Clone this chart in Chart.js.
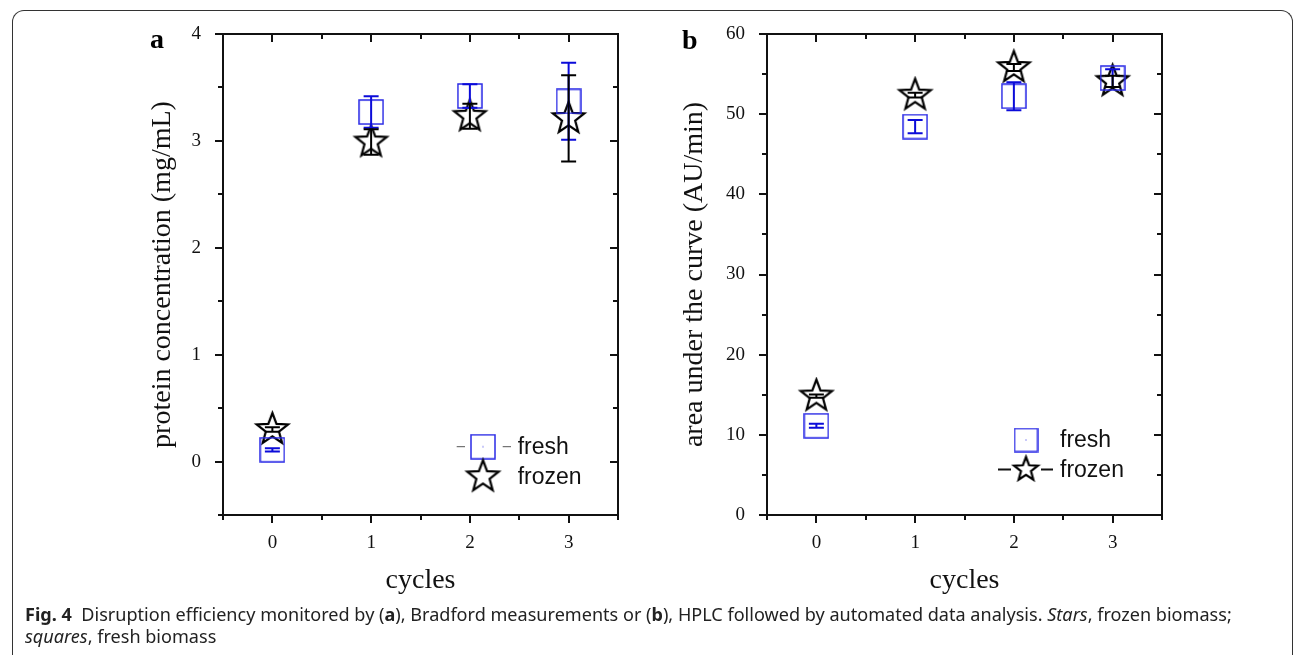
<!DOCTYPE html>
<html>
<head>
<meta charset="utf-8">
<script src="https://cdn.jsdelivr.net/npm/chart.js@4.4.0/dist/chart.umd.min.js"></script>
<style>
    body {
        margin: 0;
        width: 1293px;
        height: 655px;
        overflow: hidden;
        position: relative;
        background: #fff;
    }
    #frame {
        position: absolute;
        left: 12px;
        top: 10px;
        width: 1281px;
        height: 700px;
        box-sizing: border-box;
        border: 1.5px solid #333;
        border-bottom: none;
        border-radius: 12px 12px 0 0;
    }
    canvas { position: absolute; top: 0; }
    #chartA { left: 130px; }
    #chartB { left: 665px; }
    .panel {
        position: absolute;
        font: bold 28px "Liberation Serif", serif;
        line-height: 1;
    }
    #caption {
        position: absolute;
        left: 25px;
        top: 603px;
        font: 18px "Noto Sans", sans-serif;
        line-height: 22px;
        color: #222;
        white-space: nowrap;
        transform-origin: 0 0;
    }
</style>
</head>
<body>
<div id="frame"></div>
<canvas id="chartA" width="520" height="610"></canvas>
<canvas id="chartB" width="528" height="610"></canvas>
<div class="panel" style="left:150px; top:25px;">a</div>
<div class="panel" style="left:682px; top:26px;">b</div>
<div id="caption">
    <div id="capLine1"><b>Fig. 4</b>&nbsp; Disruption efficiency monitored by (<b>a</b>), Bradford measurements or (<b>b</b>), HPLC followed by automated data analysis. <i>Stars</i>, frozen biomass;</div>
    <div><i>squares</i>, fresh biomass</div>
</div>
<script>
// data
const cycles = [0, 1, 2, 3];

const freshProtein = [0.11, 3.27, 3.42, 3.37];
const freshProteinErr = [0.015, 0.147, 0.11, 0.36];
const frozenProtein = [0.30, 2.99, 3.23, 3.21];
const frozenProteinErr = [0.02, 0.12, 0.117, 0.403];

const freshArea = [11.13, 48.45, 52.24, 54.5];
const freshAreaErr = [0.25, 0.83, 1.75, 1.1];
const frozenArea = [14.84, 52.37, 55.82, 54.1];
const frozenAreaErr = [0.2, 0.3, 0.45, 0.7];

const seriesLabels = ['fresh', 'frozen'];

const BLUE = '#2a2ae6';
const BLUE_ERR = '#0b0bd9';

/**
 * Marker images
 */
function makeStar(R, width) {
    const c = document.createElement('canvas');
    const s = Math.ceil(R * 2 + 6);
    c.width = c.height = s;
    const g = c.getContext('2d');
    const r = R * 0.42;
    g.beginPath();
    for (let i = 0; i < 10; i++) {
        const a = -Math.PI / 2 + i * Math.PI / 5;
        const rr = i % 2 ? r : R;
        g.lineTo(s / 2 + rr * Math.cos(a), s / 2 + rr * Math.sin(a));
    }
    g.closePath();
    g.lineWidth = width;
    g.strokeStyle = '#000';
    g.stroke();
    return c;
}

function makeSquare(side, dot) {
    const c = document.createElement('canvas');
    const s = side + 2;
    c.width = c.height = s;
    const g = c.getContext('2d');
    g.strokeStyle = BLUE;
    g.lineWidth = 1.5;
    g.strokeRect(1, 1, side, side);
    if (dot) {
        g.fillStyle = BLUE;
        g.fillRect(s / 2 - 0.5, s / 2 - 0.5, 1, 1);
    }
    return c;
}

const starMark = makeStar(16.5, 2.2);
const squareMark = makeSquare(24, false);
const starLegendB = makeStar(12.5, 2.2);
const squareLegendA = makeSquare(24, true);
const squareLegendB = makeSquare(23, true);

const toPoints = (ys) => cycles.map((c, i) => ({ x: c, y: ys[i] }));

/**
 * Error bars drawn from the dataset values through the scales
 */
const errorBars = {
    id: 'errorBars',
    afterDatasetsDraw(chart) {
        const { ctx, scales: { x, y } } = chart;
        chart.data.datasets.forEach(ds => {
            if (!ds.errors) return;
            ctx.save();
            ctx.strokeStyle = ds.errorColor;
            ctx.lineWidth = 2;
            ds.data.forEach((p, i) => {
                const px = x.getPixelForValue(p.x);
                const top = y.getPixelForValue(p.y + ds.errors[i]);
                const bot = y.getPixelForValue(p.y - ds.errors[i]);
                ctx.beginPath();
                ctx.moveTo(px, top); ctx.lineTo(px, bot);
                ctx.moveTo(px - 7.5, top); ctx.lineTo(px + 7.5, top);
                ctx.moveTo(px - 7.5, bot); ctx.lineTo(px + 7.5, bot);
                ctx.stroke();
            });
            ctx.restore();
        });
    }
};

/**
 * Box frame with ticks: outward on bottom/left, inward on top/right
 */
const axisFrame = {
    id: 'axisFrame',
    afterDraw(chart) {
        const { ctx, chartArea: a, scales: { x, y } } = chart;
        ctx.save();
        ctx.strokeStyle = '#111';
        ctx.lineWidth = 2;
        ctx.strokeRect(a.left, a.top, a.right - a.left, a.bottom - a.top);
        ctx.beginPath();
        x.ticks.forEach(t => {
            const px = Math.round(x.getPixelForValue(t.value));
            const len = t.label !== '' ? 8 : 5;
            ctx.moveTo(px, a.bottom); ctx.lineTo(px, a.bottom + len);
            ctx.moveTo(px, a.top); ctx.lineTo(px, a.top + len);
        });
        y.ticks.forEach(t => {
            const py = Math.round(y.getPixelForValue(t.value));
            const len = t.label !== '' ? 8 : 5;
            ctx.moveTo(a.left, py); ctx.lineTo(a.left - len, py);
            ctx.moveTo(a.right, py); ctx.lineTo(a.right - len, py);
        });
        ctx.stroke();
        ctx.restore();
    }
};

/**
 * Marker legend drawn inside the plot
 */
const markerLegend = {
    id: 'markerLegend',
    afterDraw(chart, args, opts) {
        const { ctx } = chart;
        ctx.save();
        ctx.font = '23px "Liberation Sans", Arial, sans-serif';
        ctx.textBaseline = 'middle';
        ctx.fillStyle = '#111';
        (opts.items || []).forEach(it => {
            if (it.dashes) {
                ctx.strokeStyle = it.dashColor;
                ctx.lineWidth = it.dashWidth;
                ctx.beginPath();
                it.dashes.forEach(d => { ctx.moveTo(d[0], it.y); ctx.lineTo(d[1], it.y); });
                ctx.stroke();
            }
            const m = it.mark;
            ctx.drawImage(m, it.x - m.width / 2, it.y - m.height / 2);
            ctx.fillText(it.text, it.tx, it.y + 1);
        });
        ctx.restore();
    }
};

function makeChart(id, cfg) {
    const tickFont = { family: "'Liberation Serif', serif", size: 19 };
    const titleFont = { family: "'Liberation Serif', serif", size: 28 };
    return new Chart(document.getElementById(id), {
        type: 'scatter',
        data: {
            datasets: [
                {
                    label: seriesLabels[0],
                    data: toPoints(cfg.fresh),
                    errors: cfg.freshErr,
                    errorColor: BLUE_ERR,
                    pointStyle: squareMark,
                    pointRadius: 12,
                    pointHoverRadius: 12
                },
                {
                    label: seriesLabels[1],
                    data: toPoints(cfg.frozen),
                    errors: cfg.frozenErr,
                    errorColor: '#000',
                    pointStyle: starMark,
                    pointRadius: 12,
                    pointHoverRadius: 12
                }
            ]
        },
        options: {
            responsive: false,
            animation: false,
            devicePixelRatio: 1,
            layout: { padding: { top: 34, right: cfg.padRight, bottom: 0, left: 0 } },
            plugins: {
                legend: { display: false },
                tooltip: { enabled: false },
                markerLegend: { items: cfg.legend }
            },
            scales: {
                x: {
                    type: 'linear',
                    min: -0.5,
                    max: 3.5,
                    afterFit: s => { s.height = 95; },
                    grid: { display: false, drawTicks: false },
                    border: { display: false },
                    ticks: {
                        stepSize: 0.5,
                        autoSkip: false,
                        maxRotation: 0,
                        padding: 17,
                        color: '#111',
                        font: tickFont,
                        callback: v => Number.isInteger(v) ? String(v) : ''
                    },
                    title: {
                        display: true,
                        text: 'cycles',
                        color: '#111',
                        font: titleFont,
                        padding: { top: 0, bottom: 13 }
                    }
                },
                y: {
                    min: cfg.yMin,
                    max: cfg.yMax,
                    afterFit: s => { s.width = cfg.yWidth; },
                    grid: { display: false, drawTicks: false },
                    border: { display: false },
                    ticks: {
                        stepSize: cfg.yMinor,
                        autoSkip: false,
                        padding: 22,
                        color: '#111',
                        font: tickFont,
                        callback: v => (Math.abs(v / cfg.yMajor - Math.round(v / cfg.yMajor)) < 1e-6) ? String(v) : ''
                    },
                    title: {
                        display: true,
                        text: cfg.yTitle,
                        color: '#111',
                        font: titleFont,
                        padding: { top: cfg.titlePad, bottom: 0 }
                    }
                }
            }
        },
        plugins: [errorBars, axisFrame, markerLegend]
    });
}

makeChart('chartA', {
    fresh: freshProtein, freshErr: freshProteinErr,
    frozen: frozenProtein, frozenErr: frozenProteinErr,
    yMin: -0.5, yMax: 4, yMinor: 0.5, yMajor: 1,
    yTitle: 'protein concentration (mg/mL)',
    yWidth: 93, padRight: 32, titlePad: 16,
    legend: [
        { mark: squareLegendA, x: 353, y: 446.7, tx: 387.7, text: seriesLabels[0],
          dashes: [[326.7, 335], [372.7, 381]], dashColor: '#555', dashWidth: 1 },
        { mark: starMark, x: 353, y: 476.7, tx: 387.7, text: seriesLabels[1] }
    ]
});

makeChart('chartB', {
    fresh: freshArea, freshErr: freshAreaErr,
    frozen: frozenArea, frozenErr: frozenAreaErr,
    yMin: 0, yMax: 60, yMinor: 5, yMajor: 10,
    yTitle: 'area under the curve (AU/min)',
    yWidth: 102, padRight: 31, titlePad: 13,
    legend: [
        { mark: squareLegendB, x: 361, y: 440, tx: 395, text: seriesLabels[0] },
        { mark: starLegendB, x: 361, y: 469.5, tx: 395, text: seriesLabels[1],
          dashes: [[333, 346], [376, 388]], dashColor: '#111', dashWidth: 2 }
    ]
});

// squeeze the caption to the width of the original condensed face
document.fonts.ready.then(() => {
    const cap = document.getElementById('caption');
    const w = document.getElementById('capLine1').scrollWidth;
    cap.style.transform = 'scaleX(' + (1207 / w) + ')';
});
</script>
</body>
</html>
